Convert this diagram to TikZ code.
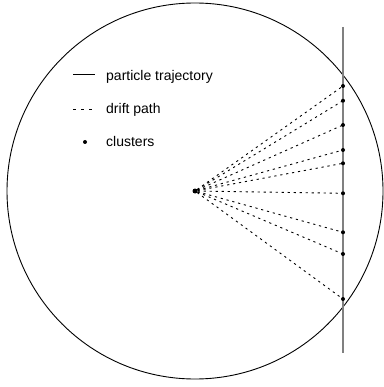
\documentclass[tikz,border=0pt]{standalone}
\usepackage{fontspec}
\setmainfont{Liberation Sans}
\begin{document}
\begin{tikzpicture}[x=1pt,y=-1pt,
  dot/.style={circle,fill=black,inner sep=0pt,minimum size=4pt},
  drift/.style={line width=0.9pt,dash pattern=on 2.2pt off 3.8pt},
  traj/.style={line width=1.5pt,draw=black!50},
  lbl/.style={anchor=base west,inner sep=0pt,font=\fontsize{14}{16}\selectfont}]
\useasboundingbox (0,0) rectangle (383,387);
\draw[line width=0.9pt] (195,191) circle (188);
\coordinate (ttop) at (343,27);
\coordinate (tbot) at (343,353);
\draw[traj] (ttop) -- (tbot);
\node[dot,minimum size=5pt] (c) at (195,191) {};
\foreach \i/\y in {1/86,2/100.7,3/125,4/150,5/163.3,6/193.3,7/232.3,8/254,9/299}{
  \node[dot] (k\i) at (343,\y) {};
  \draw[drift] (c) -- (k\i.center);
}
% legend
\coordinate (l1a) at (73,75); \coordinate (l1b) at (95,75);
\draw[line width=1pt] (l1a) -- (l1b);
\node[lbl] (t1) at (106,80.5) {particle trajectory};
\coordinate (l2a) at (73,109); \coordinate (l2b) at (95,109);
\draw[line width=0.9pt,dash pattern=on 3pt off 5pt] (l2a) -- (l2b);
\node[lbl] (t2) at (106,114) {drift path};
\node[dot] (ld) at (85,142) {};
\node[lbl] (t3) at (106,146.5) {clusters};
\end{tikzpicture}
\end{document}
